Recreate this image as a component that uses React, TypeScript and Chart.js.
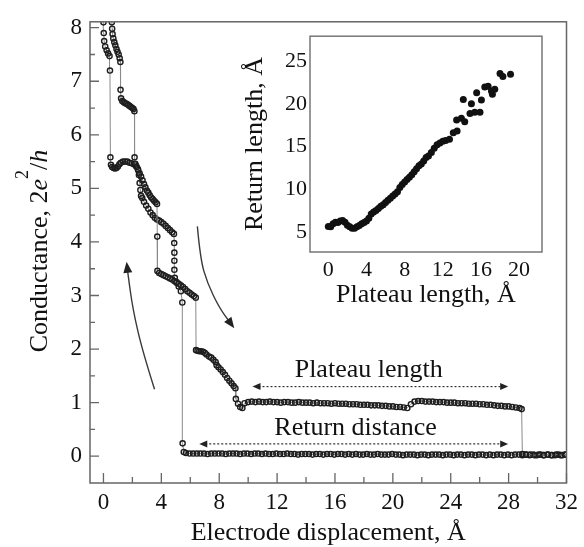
import React, { useEffect, useRef } from "react";
import { Chart, registerables } from "chart.js";

Chart.register(...registerables);

const FONT = '"Liberation Serif", "Times New Roman", serif';
const TEXT = "#111";

// ---- Main chart: tick labels ----
const xTickValues = [0, 4, 8, 12, 16, 20, 24, 28, 32];
const yTickValues = [0, 1, 2, 3, 4, 5, 6, 7, 8];

// ---- Main chart: breaking trace (displacement increasing) [x, G] ----
const breakingTrace: [number, number][] = [
  [0.55, 8.4], [0.58, 8.1], [0.6, 7.98], [0.63, 7.88], [0.68, 7.8], [0.75, 7.73], [0.82, 7.67], [0.9, 7.6],
  [0.97, 7.55], [1.05, 7.5], [1.12, 7.43], [1.17, 7.36],
  [1.18, 6.84], [1.22, 6.68],
  [1.3, 6.63], [1.4, 6.61], [1.5, 6.59], [1.6, 6.58], [1.7, 6.56], [1.8, 6.54], [1.9, 6.52], [2.0, 6.5], [2.08, 6.48], [2.14, 6.44],
  [2.15, 5.58], [2.2, 5.46],
  [2.3, 5.4], [2.4, 5.34], [2.5, 5.28], [2.6, 5.22], [2.7, 5.15], [2.8, 5.08], [2.9, 5.02], [3.0, 4.96], [3.1, 4.92],
  [3.2, 4.87], [3.3, 4.83], [3.4, 4.8], [3.5, 4.77], [3.6, 4.74], [3.7, 4.71],
  [3.72, 4.1], [3.73, 3.46],
  [3.85, 3.42], [4.0, 3.4], [4.15, 3.38], [4.3, 3.36], [4.45, 3.34], [4.6, 3.32], [4.75, 3.3], [4.9, 3.27], [5.05, 3.25],
  [5.2, 3.22], [5.35, 3.19], [5.5, 3.16], [5.65, 3.12], [5.8, 3.08], [5.95, 3.05], [6.1, 3.02], [6.25, 2.99], [6.38, 2.96],
  [6.4, 1.98],
  [6.5, 1.97], [6.62, 1.96], [6.75, 1.96], [6.88, 1.95], [7.0, 1.93], [7.12, 1.9],
  [7.3, 1.86], [7.45, 1.84], [7.6, 1.8], [7.75, 1.76], [7.82, 1.7], [7.95, 1.66], [8.1, 1.62], [8.25, 1.57], [8.4, 1.52],
  [8.55, 1.46], [8.7, 1.41], [8.85, 1.36], [9.0, 1.31], [9.12, 1.27],
  [9.15, 1.07], [9.3, 0.98], [9.45, 0.92], [9.6, 0.9], [9.75, 0.99],
  [10.0, 1.01], [10.25, 1.02], [10.5, 1.01], [10.75, 1.02], [11.0, 1.01], [11.25, 1.01], [11.5, 1.02], [11.75, 1.01],
  [12.0, 1.01], [12.25, 1.0], [12.5, 1.01], [12.75, 1.01], [13.0, 1.0], [13.25, 1.0], [13.5, 1.01], [13.75, 1.0],
  [14.0, 1.0], [14.25, 1.0], [14.5, 0.99], [14.75, 1.0], [15.0, 0.99], [15.25, 0.99], [15.5, 0.99], [15.75, 0.98],
  [16.0, 0.99], [16.25, 0.98], [16.5, 0.98], [16.75, 0.98], [17.0, 0.97], [17.25, 0.97], [17.5, 0.97], [17.75, 0.96],
  [18.0, 0.96], [18.25, 0.96], [18.5, 0.95], [18.75, 0.95], [19.0, 0.95], [19.25, 0.94], [19.5, 0.94], [19.75, 0.93],
  [20.0, 0.93], [20.25, 0.92], [20.5, 0.92], [20.75, 0.91], [21.0, 0.9], [21.25, 0.97], [21.5, 1.02], [21.75, 1.03],
  [22.0, 1.03], [22.25, 1.02], [22.5, 1.02], [22.75, 1.02], [23.0, 1.01], [23.25, 1.01], [23.5, 1.01], [23.75, 1.0],
  [24.0, 1.0], [24.25, 1.0], [24.5, 0.99], [24.75, 0.99], [25.0, 0.99], [25.25, 0.98], [25.5, 0.98], [25.75, 0.98],
  [26.0, 0.97], [26.25, 0.97], [26.5, 0.96], [26.75, 0.96], [27.0, 0.95], [27.25, 0.94], [27.5, 0.94], [27.75, 0.93],
  [28.0, 0.93], [28.25, 0.92], [28.5, 0.91], [28.75, 0.9], [28.9, 0.88],
  [28.95, 0.04],
  [29.2, 0.03], [29.5, 0.03], [29.8, 0.02], [30.1, 0.03], [30.4, 0.02], [30.7, 0.03], [31.0, 0.02], [31.3, 0.03],
  [31.6, 0.02], [31.9, 0.03], [32.2, 0.02],
];

// ---- Main chart: return trace (displacement decreasing) [x, G] ----
const returnTrace: [number, number][] = [
  [32.2, 0.02], [31.95, 0.03], [31.7, 0.02], [31.45, 0.03], [31.2, 0.02], [30.95, 0.02], [30.7, 0.03], [30.45, 0.02],
  [30.2, 0.03], [29.95, 0.02], [29.7, 0.03], [29.45, 0.02], [29.2, 0.03], [28.95, 0.02], [28.7, 0.03], [28.45, 0.03],
  [28.2, 0.02], [27.95, 0.03], [27.7, 0.02], [27.45, 0.03], [27.2, 0.03], [26.95, 0.02], [26.7, 0.03], [26.45, 0.02],
  [26.2, 0.03], [25.95, 0.03], [25.7, 0.02], [25.45, 0.03], [25.2, 0.03], [24.95, 0.02], [24.7, 0.03], [24.45, 0.03],
  [24.2, 0.02], [23.95, 0.03], [23.7, 0.03], [23.45, 0.02], [23.2, 0.03], [22.95, 0.03], [22.7, 0.03], [22.45, 0.02],
  [22.2, 0.03], [21.95, 0.03], [21.7, 0.02], [21.45, 0.03], [21.2, 0.03], [20.95, 0.03], [20.7, 0.02], [20.45, 0.03],
  [20.2, 0.03], [19.95, 0.04], [19.7, 0.03], [19.45, 0.03], [19.2, 0.03], [18.95, 0.04], [18.7, 0.03], [18.45, 0.03],
  [18.2, 0.04], [17.95, 0.03], [17.7, 0.03], [17.45, 0.04], [17.2, 0.03], [16.95, 0.04], [16.7, 0.03], [16.45, 0.04],
  [16.2, 0.04], [15.95, 0.03], [15.7, 0.04], [15.45, 0.04], [15.2, 0.03], [14.95, 0.04], [14.7, 0.04], [14.45, 0.03],
  [14.2, 0.04], [13.95, 0.04], [13.7, 0.04], [13.45, 0.03], [13.2, 0.04], [12.95, 0.04], [12.7, 0.05], [12.45, 0.04],
  [12.2, 0.04], [11.95, 0.05], [11.7, 0.04], [11.45, 0.04], [11.2, 0.05], [10.95, 0.04], [10.7, 0.05], [10.45, 0.05],
  [10.2, 0.04], [9.95, 0.05], [9.7, 0.05], [9.45, 0.04], [9.2, 0.05], [8.95, 0.05], [8.7, 0.05], [8.45, 0.04],
  [8.2, 0.05], [7.95, 0.05], [7.7, 0.05], [7.45, 0.05], [7.2, 0.04], [6.95, 0.05], [6.7, 0.05], [6.45, 0.05],
  [6.2, 0.05], [5.95, 0.05], [5.7, 0.06],
  [5.55, 0.08], [5.47, 0.24],
  [5.45, 2.87], [5.35, 3.08], [5.2, 3.17], [5.05, 3.24], [4.93, 3.33],
  [4.9, 3.48], [4.9, 3.65], [4.9, 3.8], [4.89, 3.98], [4.87, 4.15],
  [4.75, 4.18], [4.6, 4.22], [4.45, 4.26], [4.3, 4.3], [4.15, 4.34], [4.0, 4.37], [3.85, 4.4], [3.7, 4.42],
  [3.55, 4.45], [3.4, 4.5], [3.25, 4.55], [3.1, 4.62], [2.95, 4.68], [2.8, 4.75], [2.68, 4.82], [2.6, 4.86],
  [2.55, 4.97], [2.5, 5.1], [2.45, 5.25], [2.38, 5.36],
  [2.25, 5.42], [2.1, 5.45], [1.95, 5.47], [1.8, 5.48], [1.65, 5.5], [1.5, 5.5], [1.35, 5.5], [1.2, 5.48],
  [1.1, 5.45], [1.0, 5.41], [0.9, 5.38], [0.8, 5.37], [0.7, 5.38], [0.6, 5.4], [0.52, 5.44],
  [0.48, 5.58], [0.45, 7.2], [0.42, 7.47],
  [0.32, 7.52], [0.22, 7.58], [0.12, 7.65], [0.05, 7.75], [0.02, 7.9], [0.0, 8.1], [-0.02, 8.4],
];

// ---- Annotations (data units) ----
const plateauArrow = { x1: 10.3, x2: 27.97, y: 1.3, label: "Plateau length", lx: 18.33, ly: 1.47 };
const returnArrow = { x1: 6.62, x2: 27.97, y: 0.23, label: "Return distance", lx: 17.42, ly: 0.4 };
const returnCurveArrow: [number, number][] = [[3.53, 1.25], [2.72, 1.94], [2.03, 2.74], [1.69, 3.41], [1.6, 3.63]];
const breakCurveArrow: [number, number][] = [[6.49, 4.29], [6.69, 3.69], [7.18, 3.23], [8.01, 2.77], [9.04, 2.39]];

// ---- Inset ----
const insetXTicks = [0, 4, 8, 12, 16, 20];
const insetYTicks = [5, 10, 15, 20, 25];
const plateauLengths = [
  0.0, 0.25, 0.5, 0.75, 1.0, 1.25, 1.5, 1.75, 2.0, 2.25, 2.5, 2.75, 3.0, 3.25, 3.5, 3.75, 4.0, 4.25, 4.5, 4.75,
  5.0, 5.25, 5.5, 5.75, 6.0, 6.25, 6.5, 6.75, 7.0, 7.25, 7.5, 7.75, 8.0, 8.25, 8.5, 8.75, 9.0, 9.25, 9.5, 9.75,
  10.0, 10.25, 10.5, 10.8, 11.1, 11.4, 11.7, 12.0, 12.3, 12.7, 13.1, 13.5, 13.45, 13.95, 14.3, 14.15, 14.85, 15.0,
  15.35, 15.55, 15.9, 16.05, 16.4, 16.75, 17.1, 17.45, 17.2, 18.0, 18.3, 19.1,
];
const returnLengths = [
  5.65, 5.6, 5.95, 6.15, 6.1, 6.3, 6.35, 6.15, 5.8, 5.6, 5.45, 5.45, 5.6, 5.75, 5.95, 6.1, 6.3, 6.6, 7.1, 7.35,
  7.5, 7.75, 8.0, 8.2, 8.45, 8.7, 8.95, 9.2, 9.45, 9.7, 10.2, 10.55, 10.85, 11.15, 11.4, 11.7, 12.05, 12.4, 12.75, 12.95,
  13.3, 13.7, 13.9, 14.3, 14.8, 15.2, 15.4, 15.6, 15.7, 15.85, 16.6, 16.8, 18.1, 18.3, 17.9, 20.5, 18.85, 20.0,
  19.0, 21.3, 19.0, 20.45, 21.95, 22.05, 21.5, 21.7, 21.1, 23.55, 23.2, 23.45,
];

function arrowHead(ctx: CanvasRenderingContext2D, tx: number, ty: number, dx: number, dy: number, len: number, half: number) {
  const d = Math.hypot(dx, dy) || 1;
  const ux = dx / d, uy = dy / d;
  const bx = tx - ux * len, by = ty - uy * len;
  ctx.beginPath();
  ctx.moveTo(tx, ty);
  ctx.lineTo(bx - uy * half, by + ux * half);
  ctx.lineTo(bx + uy * half, by - ux * half);
  ctx.closePath();
  ctx.fill();
}

function drawDottedArrow(ctx: CanvasRenderingContext2D, xs: any, ys: any, a: typeof plateauArrow) {
  const x1 = xs.getPixelForValue(a.x1), x2 = xs.getPixelForValue(a.x2), y = ys.getPixelForValue(a.y);
  ctx.save();
  ctx.strokeStyle = "#333";
  ctx.fillStyle = "#222";
  ctx.lineWidth = 1.2;
  ctx.setLineDash([2, 2]);
  ctx.beginPath();
  ctx.moveTo(x1 + 6, y);
  ctx.lineTo(x2 - 6, y);
  ctx.stroke();
  ctx.setLineDash([]);
  arrowHead(ctx, x1, y, -1, 0, 8, 3.5);
  arrowHead(ctx, x2, y, 1, 0, 8, 3.5);
  ctx.fillStyle = TEXT;
  ctx.font = `26px ${FONT}`;
  ctx.textAlign = "center";
  ctx.textBaseline = "alphabetic";
  ctx.fillText(a.label, xs.getPixelForValue(a.lx), ys.getPixelForValue(a.ly));
  ctx.restore();
}

function drawCurveArrow(ctx: CanvasRenderingContext2D, xs: any, ys: any, pts: [number, number][]) {
  const p = pts.map(([x, y]) => [xs.getPixelForValue(x), ys.getPixelForValue(y)]);
  const n = p.length;
  const tip = p[n - 1], prev = p[n - 2];
  const dx = tip[0] - prev[0], dy = tip[1] - prev[1];
  const d = Math.hypot(dx, dy);
  const base = [tip[0] - (dx / d) * 8, tip[1] - (dy / d) * 8];
  const path = [...p.slice(0, n - 1), base];
  ctx.save();
  ctx.strokeStyle = "#3a3a3a";
  ctx.fillStyle = "#222";
  ctx.lineWidth = 1.4;
  ctx.beginPath();
  ctx.moveTo(path[0][0], path[0][1]);
  for (let i = 1; i < path.length - 1; i++) {
    const mx = (path[i][0] + path[i + 1][0]) / 2, my = (path[i][1] + path[i + 1][1]) / 2;
    ctx.quadraticCurveTo(path[i][0], path[i][1], mx, my);
  }
  ctx.lineTo(base[0], base[1]);
  ctx.stroke();
  arrowHead(ctx, tip[0], tip[1], dx, dy, 11, 4.5);
  ctx.restore();
}

function drawYTitle(ctx: CanvasRenderingContext2D, cx: number, cy: number) {
  const parts = [
    { t: "Conductance, 2", f: `26px ${FONT}`, dy: 0 },
    { t: "e", f: `italic 26px ${FONT}`, dy: 0 },
    { t: "2", f: `18px ${FONT}`, dy: -19 },
    { t: "/", f: `26px ${FONT}`, dy: 0 },
    { t: "h", f: `italic 26px ${FONT}`, dy: 0 },
  ];
  ctx.save();
  let total = 0;
  const widths = parts.map((p) => {
    ctx.font = p.f;
    const w = ctx.measureText(p.t).width;
    total += w;
    return w;
  });
  ctx.translate(cx, cy);
  ctx.rotate(-Math.PI / 2);
  ctx.fillStyle = TEXT;
  ctx.textAlign = "left";
  ctx.textBaseline = "alphabetic";
  let x = -total / 2;
  parts.forEach((p, i) => {
    ctx.font = p.f;
    ctx.fillText(p.t, x, p.dy);
    x += widths[i];
  });
  ctx.restore();
}

const mainDecor = {
  id: "mainDecor",
  afterDatasetsDraw(chart: any) {
    const { ctx, chartArea: a, scales } = chart;
    const xs = scales.x, ys = scales.y;
    ctx.save();
    ctx.strokeStyle = "#666";
    ctx.lineWidth = 1.5;
    ctx.strokeRect(a.left, a.top, a.right - a.left, a.bottom - a.top);
    ctx.lineWidth = 1.3;
    ctx.beginPath();
    xTickValues.forEach((v, i) => {
      const px = xs.getPixelForValue(v);
      ctx.moveTo(px, a.bottom);
      ctx.lineTo(px, a.bottom - 10);
      if (i < xTickValues.length - 1) {
        const mx = xs.getPixelForValue((v + xTickValues[i + 1]) / 2);
        ctx.moveTo(mx, a.bottom);
        ctx.lineTo(mx, a.bottom - 6);
      }
    });
    yTickValues.forEach((v, i) => {
      const py = ys.getPixelForValue(v);
      ctx.moveTo(a.left, py);
      ctx.lineTo(a.left + 9, py);
      if (i < yTickValues.length - 1) {
        const my = ys.getPixelForValue((v + yTickValues[i + 1]) / 2);
        ctx.moveTo(a.left, my);
        ctx.lineTo(a.left + 5, my);
      }
    });
    ctx.stroke();
    ctx.restore();
    drawDottedArrow(ctx, xs, ys, plateauArrow);
    drawDottedArrow(ctx, xs, ys, returnArrow);
    drawCurveArrow(ctx, xs, ys, returnCurveArrow);
    drawCurveArrow(ctx, xs, ys, breakCurveArrow);
    drawYTitle(ctx, 46.5, 251);
  },
};

const insetFrame = {
  id: "insetFrame",
  afterDatasetsDraw(chart: any) {
    const { ctx, chartArea: a } = chart;
    ctx.save();
    ctx.strokeStyle = "#777";
    ctx.lineWidth = 1.5;
    ctx.strokeRect(a.left, a.top, a.right - a.left, a.bottom - a.top);
    ctx.restore();
  },
};

const traceStyle = {
  showLine: true,
  borderColor: "#8a8a8a",
  borderWidth: 1,
  pointRadius: 2.6,
  pointBorderWidth: 1.4,
  pointBorderColor: "#1e1e1e",
  pointBackgroundColor: "rgba(255,255,255,0)",
  pointStyle: "circle",
  tension: 0,
};

const noGrid = { display: false, drawTicks: false };

export default function App() {
  const mainRef = useRef<HTMLCanvasElement>(null);
  const insetRef = useRef<HTMLCanvasElement>(null);

  useEffect(() => {
    const main = new Chart(mainRef.current as HTMLCanvasElement, {
      type: "scatter",
      data: {
        datasets: [
          { ...traceStyle, data: breakingTrace.map(([x, y]) => ({ x, y })) },
          { ...traceStyle, data: returnTrace.map(([x, y]) => ({ x, y })) },
        ],
      } as any,
      options: {
        animation: false,
        responsive: false,
        devicePixelRatio: 1,
        layout: { padding: { top: 14, right: 16, left: 0, bottom: 0 } },
        plugins: { legend: { display: false }, tooltip: { enabled: false } },
        scales: {
          x: {
            type: "linear",
            min: -0.93,
            max: 32,
            grid: noGrid,
            border: { display: false },
            afterBuildTicks: (s: any) => {
              s.ticks = xTickValues.map((v) => ({ value: v }));
            },
            afterFit: (s: any) => {
              s.height = 64;
            },
            ticks: {
              font: { family: FONT, size: 23 },
              color: TEXT,
              padding: 6,
              autoSkip: false,
              maxRotation: 0,
              callback: (v: any) => String(v),
            },
            title: {
              display: true,
              text: "Electrode displacement, Å",
              font: { family: FONT, size: 26, lineHeight: 1.1 },
              color: TEXT,
              padding: { top: 0, bottom: 0 },
            },
          },
          y: {
            type: "linear",
            min: -0.5,
            max: 8.11,
            grid: noGrid,
            border: { display: false },
            afterBuildTicks: (s: any) => {
              s.ticks = yTickValues.map((v) => ({ value: v }));
            },
            afterFit: (s: any) => {
              s.width = 90;
            },
            ticks: {
              font: { family: FONT, size: 23 },
              color: TEXT,
              padding: 8,
              autoSkip: false,
              callback: (v: any) => String(v),
            },
          },
        },
      } as any,
      plugins: [mainDecor],
    });

    const inset = new Chart(insetRef.current as HTMLCanvasElement, {
      type: "scatter",
      data: {
        datasets: [
          {
            data: plateauLengths.map((x, i) => ({ x, y: returnLengths[i] })),
            pointRadius: 3.5,
            pointBorderWidth: 0,
            pointBackgroundColor: "#111",
            pointBorderColor: "#111",
          },
        ],
      } as any,
      options: {
        animation: false,
        responsive: false,
        devicePixelRatio: 1,
        layout: { padding: { top: 10, right: 14, left: 0, bottom: 0 } },
        plugins: { legend: { display: false }, tooltip: { enabled: false } },
        scales: {
          x: {
            type: "linear",
            min: -1.92,
            max: 22.4,
            grid: noGrid,
            border: { display: false },
            afterBuildTicks: (s: any) => {
              s.ticks = insetXTicks.map((v) => ({ value: v }));
            },
            afterFit: (s: any) => {
              s.height = 60;
            },
            ticks: {
              font: { family: FONT, size: 22 },
              color: TEXT,
              padding: 5,
              autoSkip: false,
              maxRotation: 0,
              callback: (v: any) => String(v),
            },
            title: {
              display: true,
              text: "Plateau length, Å",
              font: { family: FONT, size: 26, lineHeight: 1.2 },
              color: TEXT,
              padding: { top: 0, bottom: 1 },
            },
          },
          y: {
            type: "linear",
            min: 2.66,
            max: 27.9,
            grid: noGrid,
            border: { display: false },
            afterBuildTicks: (s: any) => {
              s.ticks = insetYTicks.map((v) => ({ value: v }));
            },
            afterFit: (s: any) => {
              s.width = 74;
            },
            ticks: {
              font: { family: FONT, size: 22 },
              color: TEXT,
              padding: 3,
              autoSkip: false,
              callback: (v: any) => String(v),
            },
            title: {
              display: true,
              text: "Return length, Å",
              font: { family: FONT, size: 26, lineHeight: 1.2 },
              color: TEXT,
              padding: { top: 4, bottom: 0 },
            },
          },
        },
      } as any,
      plugins: [insetFrame],
    });

    return () => {
      main.destroy();
      inset.destroy();
    };
  }, []);

  return (
    <div style={{ position: "absolute", left: 0, top: 0, width: 584, height: 547, background: "#fff" }}>
      <canvas
        ref={mainRef}
        width={584}
        height={547}
        style={{ position: "absolute", left: 0, top: 0, width: 584, height: 547 }}
      />
      <canvas
        ref={insetRef}
        width={320}
        height={292}
        style={{ position: "absolute", left: 236, top: 20, width: 320, height: 292 }}
      />
    </div>
  );
}
